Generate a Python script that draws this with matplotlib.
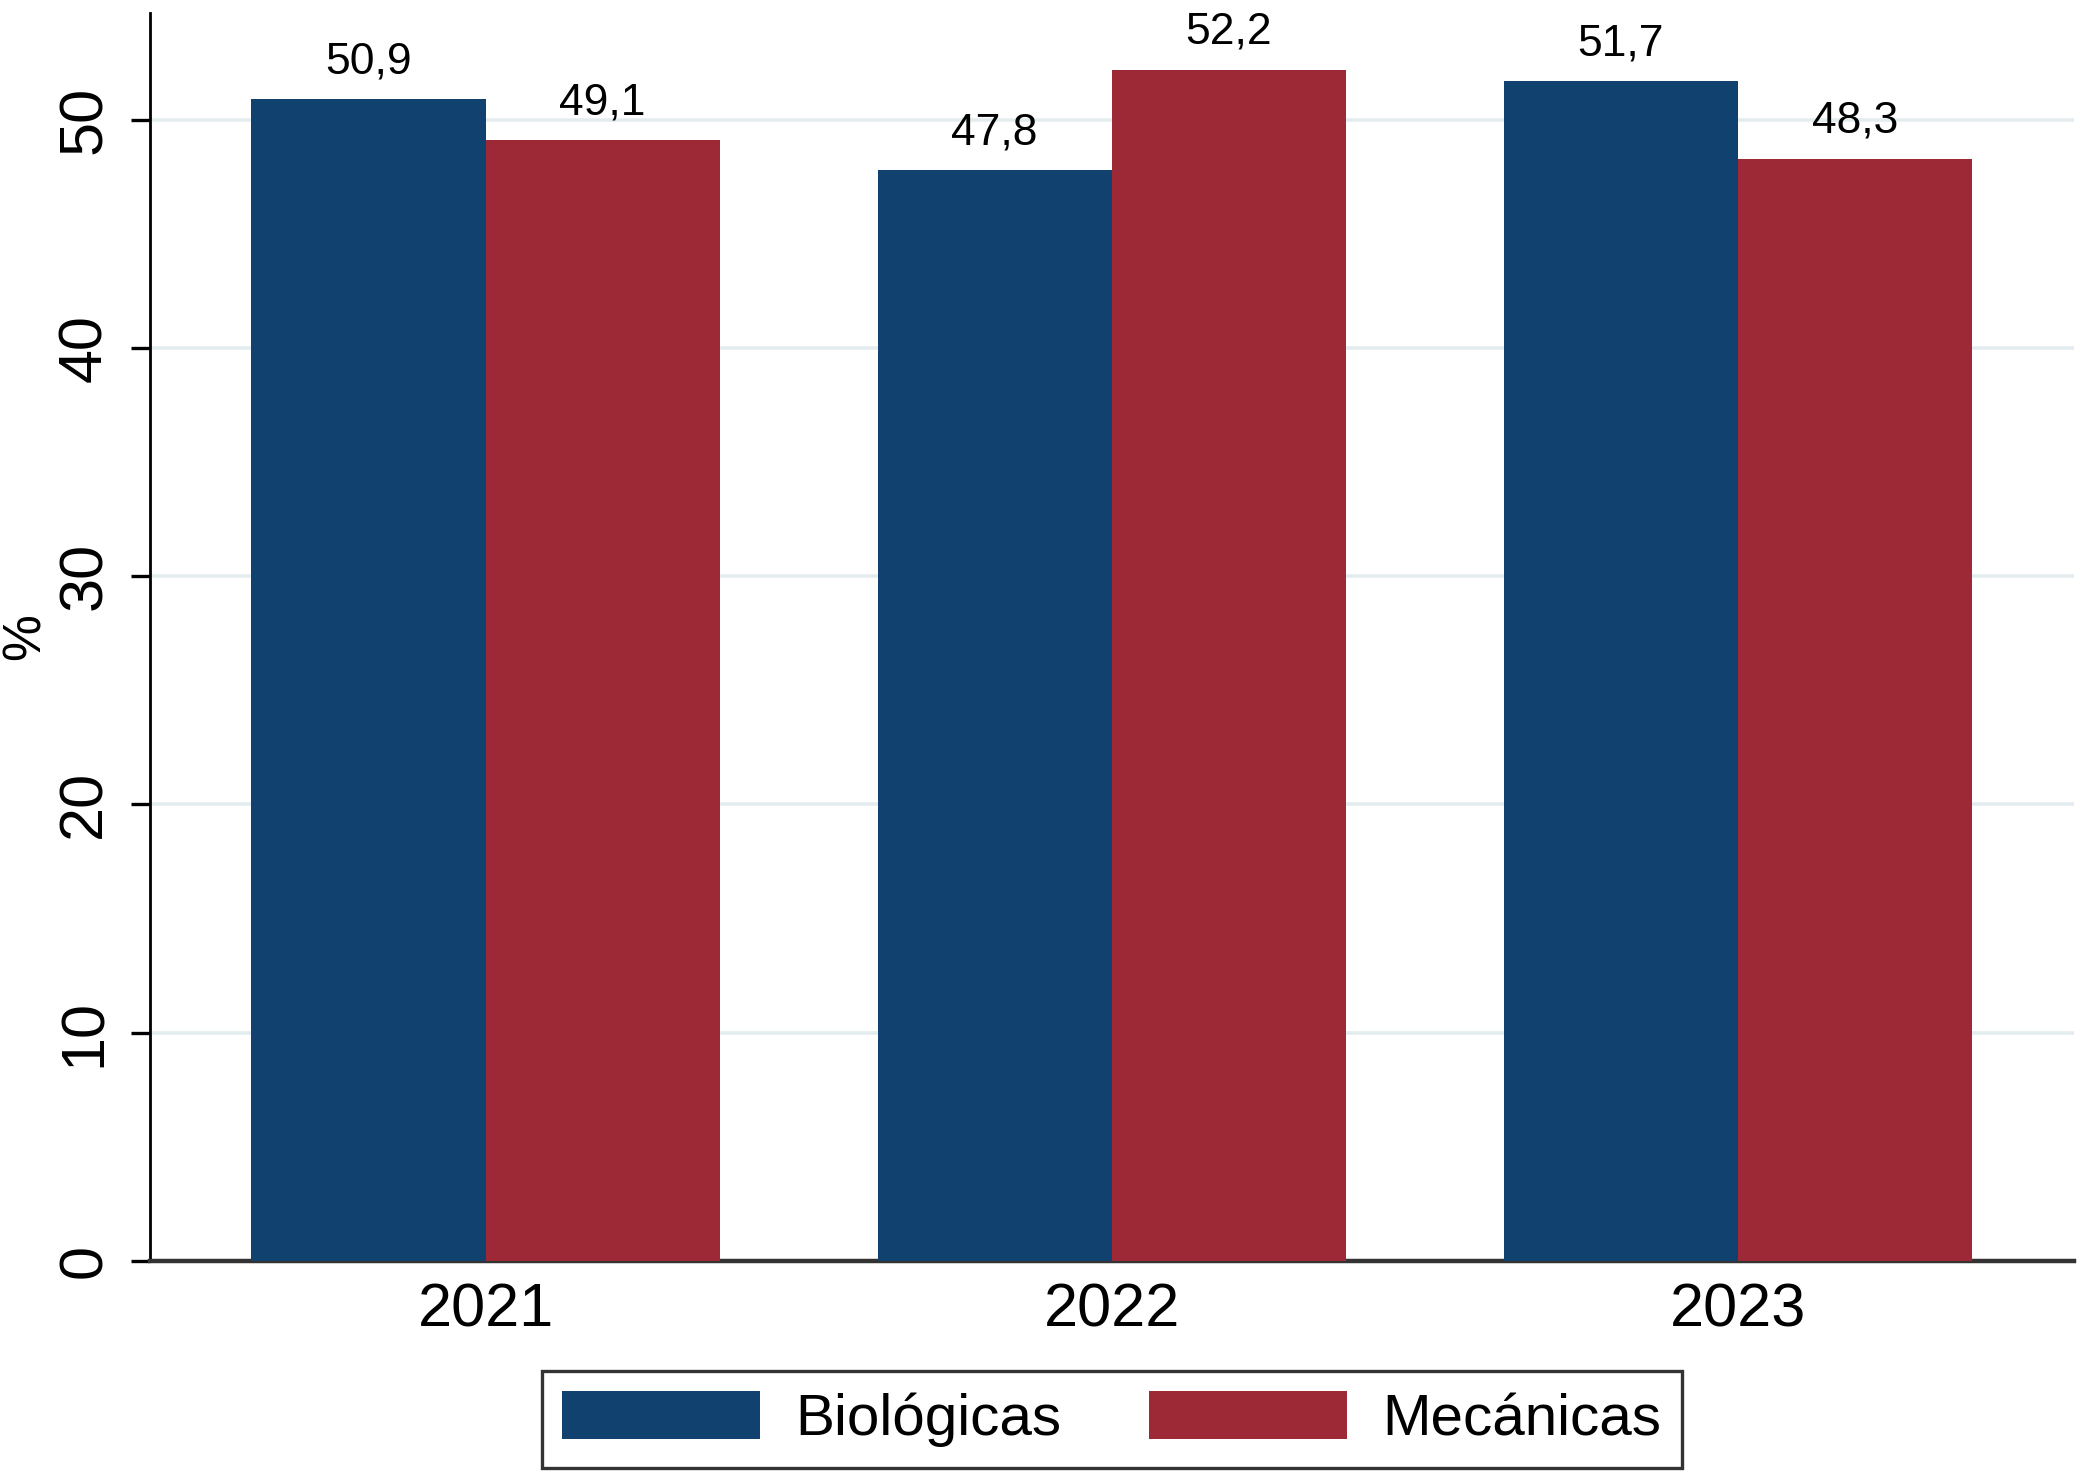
import numpy as np
import matplotlib
matplotlib.use('Agg')
import matplotlib.pyplot as plt

plt.rcParams['font.family'] = ['Liberation Sans', 'DejaVu Sans']

# Data
years = ['2021', '2022', '2023']
biologicas = [50.9, 47.8, 51.7]
mecanicas = [49.1, 52.2, 48.3]

blue = '#11426f'
red = '#9c2935'

fig = plt.figure(figsize=(10.41, 7.39), dpi=200)
ax = fig.add_axes([0.072, 0.147, 0.924, 0.844])

x = np.arange(len(years))
w = 0.374
b1 = ax.bar(x - w/2, biologicas, w, color=blue, label='Biológicas', zorder=3)
b2 = ax.bar(x + w/2, mecanicas, w, color=red, label='Mecánicas', zorder=3)

# value labels with decimal comma
for bars in (b1, b2):
    for rect in bars:
        h = rect.get_height()
        ax.annotate(f'{h:.1f}'.replace('.', ','),
                    (rect.get_x() + rect.get_width()/2, h),
                    xytext=(0, 6), textcoords='offset points',
                    ha='center', va='bottom', fontsize=16, zorder=4)

ax.set_xlim(-0.536, 2.536)
ax.set_ylim(0, 54.67)
ax.set_xticks(x)
ax.set_xticklabels(years, fontsize=22)
ax.set_yticks([0, 10, 20, 30, 40, 50])
ax.set_yticklabels(['0', '10', '20', '30', '40', '50'], fontsize=22, rotation=90, va='center')
ax.tick_params(axis='x', length=0, pad=8)
ax.tick_params(axis='y', length=7, width=1.2, pad=6)

# y title placed by hand, close to the left edge like the original
fig.text(0.0125, 0.569, '%', rotation=90, ha='center', va='center', fontsize=19)

ax.grid(axis='y', color='#e3edf0', linewidth=1.3, zorder=0)
for s in ['top', 'right']:
    ax.spines[s].set_visible(False)
ax.spines['left'].set_linewidth(1.0)
ax.spines['bottom'].set_linewidth(1.6)
ax.spines['bottom'].set_color('#333333')

leg = ax.legend(loc='upper center', bbox_to_anchor=(0.5, -0.088), ncol=2,
                fontsize=21, frameon=True, fancybox=False, edgecolor='black',
                handlelength=3.4, handleheight=0.9, handletextpad=0.6,
                columnspacing=1.5, borderpad=0.35, borderaxespad=0)
leg.get_frame().set_linewidth(1.2)

fig.savefig('out.png', dpi=200)
